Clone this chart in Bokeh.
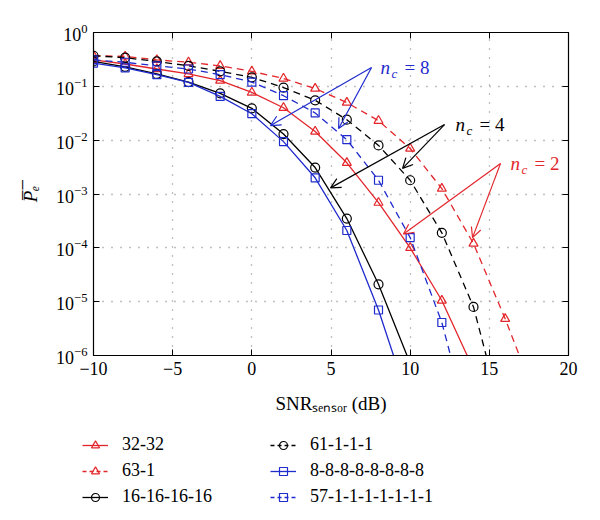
from bokeh.plotting import figure
from bokeh.layouts import column
from bokeh.models import (Legend, LegendItem, Arrow, OpenHead, Label, FixedTicker,
                          LinearAxis, LogAxis, CustomJSTickFormatter)
from bokeh.embed import file_html
from bokeh.resources import INLINE

# ---- data ----
snr = [-10, -8, -6, -4, -2, 0, 2, 4, 6, 8, 10, 12, 14, 16]

pe_32_32 = [0.31, 0.26, 0.21, 0.17, 0.128, 0.077, 0.040, 0.0145, 0.0038, 6.9e-4, 1.0e-4, 1.05e-5]
end_32_32 = (13.6, 1e-6)

pe_63_1 = [0.37, 0.36, 0.31, 0.28, 0.24, 0.19, 0.14, 0.091, 0.05, 0.023, 0.007, 1.26e-3, 1.2e-4, 4.8e-6]
end_63_1 = (16.9, 1e-6)

pe_16x4 = [0.29, 0.23, 0.17, 0.12, 0.074, 0.039, 0.013, 0.0031, 3.5e-4, 2.1e-5]
end_16x4 = (9.8, 1e-6)

pe_61_1 = [0.37, 0.34, 0.29, 0.24, 0.19, 0.147, 0.095, 0.055, 0.024, 0.008, 0.0018, 1.9e-4, 8e-6]
end_61_1 = (14.8, 1e-6)

pe_8x8 = [0.27, 0.22, 0.165, 0.118, 0.065, 0.031, 0.0094, 0.002, 2.1e-4, 7e-6]
end_8x8 = (8.95, 1e-6)

pe_57_1 = [0.31, 0.28, 0.24, 0.21, 0.165, 0.12, 0.067, 0.032, 0.0102, 0.0018, 1.55e-4, 4.1e-6]
end_57_1 = (12.55, 1e-6)

x_ticks = [-10, -5, 0, 5, 10, 15, 20]
y_ticks = [1e-6, 1e-5, 1e-4, 1e-3, 1e-2, 1e-1, 1]

RED = "#e3262b"
BLUE = "#1f2bcc"
BLACK = "#000000"
FONT = "Liberation Serif"

p = figure(width=588, height=428, y_axis_type="log", x_range=(-10, 20), y_range=(1e-6, 1),
           output_backend="svg", toolbar_location=None, frame_align=False,
           min_border_left=93, min_border_right=20, min_border_top=32, min_border_bottom=73)
p.background_fill_color = "white"
p.border_fill_color = "white"
p.outline_line_color = "black"
p.outline_line_width = 1.2

# axes
xt = FixedTicker(ticks=x_ticks, minor_ticks=[])
yt = FixedTicker(ticks=y_ticks, minor_ticks=[])
p.xaxis.ticker = xt
p.yaxis.ticker = yt
p.xaxis.major_label_overrides = {-10: "\u221210", -5: "\u22125"}
for ax in (p.xaxis, p.yaxis):
    ax.major_tick_in = 6
    ax.major_tick_out = 0
    ax.minor_tick_in = 0
    ax.minor_tick_out = 0
    ax.axis_line_color = "black"
    ax.major_label_text_font = FONT
    ax.major_label_text_font_size = "18px"
    ax.major_label_text_color = "black"
    ax.axis_label_text_font = FONT
    ax.axis_label_text_font_size = "19px"
    ax.axis_label_text_font_style = "normal"
    ax.axis_label_text_color = "black"
p.xaxis.major_label_standoff = 6
p.yaxis.major_label_standoff = 6
p.xaxis.axis_label = "SNR\u209b\u2091\u2099\u209b\u2092\u1d63 (dB)"
p.xaxis.axis_label_standoff = 15
p.yaxis.axis_label = "P\u0305\u2091\u0305"
p.yaxis.axis_label_text_font_style = "italic"
p.yaxis.axis_label_standoff = 12

top = LinearAxis(ticker=xt, formatter=CustomJSTickFormatter(code="return ''"),
                 major_tick_in=6, major_tick_out=0, minor_tick_in=0, minor_tick_out=0,
                 major_label_standoff=0)
right = LogAxis(ticker=yt, formatter=CustomJSTickFormatter(code="return ''"),
                major_tick_in=6, major_tick_out=0, minor_tick_in=0, minor_tick_out=0,
                major_label_standoff=0)
p.add_layout(top, "above")
p.add_layout(right, "right")

p.xgrid.grid_line_color = "#808080"
p.ygrid.grid_line_color = "#808080"
p.xgrid.grid_line_dash = "1 8"
p.ygrid.grid_line_dash = "1 8"
p.xgrid.grid_line_width = 1.3
p.ygrid.grid_line_width = 1.3

series = [
    ("32-32", pe_32_32, end_32_32, RED, "solid", "triangle"),
    ("63-1", pe_63_1, end_63_1, RED, "dashed", "triangle"),
    ("16-16-16-16", pe_16x4, end_16x4, BLACK, "solid", "circle"),
    ("61-1-1-1", pe_61_1, end_61_1, BLACK, "dashed", "circle"),
    ("8-8-8-8-8-8-8-8", pe_8x8, end_8x8, BLUE, "solid", "square"),
    ("57-1-1-1-1-1-1-1", pe_57_1, end_57_1, BLUE, "dashed", "square"),
]

# legend strip under the main plot; its ranges keep the series out of view,
# so only the legend keys show
lf = figure(width=588, height=90, output_backend="svg", toolbar_location=None,
            x_axis_location=None, y_axis_location=None, frame_align=False,
            min_border_left=0, min_border_right=0, min_border_top=0, min_border_bottom=0,
            x_range=(1000, 1001), y_range=(1000, 1001))
lf.outline_line_color = None
lf.xgrid.visible = False
lf.ygrid.visible = False
lf.background_fill_color = "white"
lf.border_fill_color = "white"

items = []
for name, vals, end, col, dash, mk in series:
    xs = snr[:len(vals)]
    lx = xs + [end[0]]
    ly = vals + [end[1]]
    ld = "7 5" if dash == "dashed" else "solid"
    p.line(lx, ly, line_color=col, line_width=1.3, line_dash=ld)
    sz = 9 if mk != "square" else 8
    p.scatter(xs, vals, marker=mk, size=sz, fill_color=None, line_color=col, line_width=1.2)
    llr = lf.line(lx, ly, line_color=col, line_width=1.3,
                  line_dash=("4 3" if dash == "dashed" else "solid"))
    lsr = lf.scatter(xs, vals, marker=mk, size=(7 if mk != "square" else 6), fill_color=None,
                     line_color=col, line_width=1.2)
    items.append(LegendItem(label=name, renderers=[llr, lsr]))

def make_legend(its, loc):
    lg = Legend(items=its, location=loc, orientation="vertical")
    lg.label_text_font = FONT
    lg.label_text_font_size = "18px"
    lg.label_text_color = "black"
    lg.glyph_width = 26
    lg.glyph_height = 20
    lg.label_height = 20
    lg.label_standoff = 14
    lg.spacing = 5
    lg.padding = 0
    lg.margin = 0
    lg.border_line_color = None
    lg.background_fill_alpha = 0
    return lg

lf.add_layout(make_legend(items[0:3], (82, 11)))
lf.add_layout(make_legend(items[3:6], (270, 11)))

# annotations: arrows and n_c labels
def arrows(apex, ends, col):
    for e in ends:
        p.add_layout(Arrow(x_start=apex[0], y_start=apex[1], x_end=e[0], y_end=e[1],
                           line_color=col, line_width=1.2,
                           end=OpenHead(size=10, line_color=col, line_width=1.2)))

def nc_label(x, y, txt, col):
    p.add_layout(Label(x=x, y=y, text="n", text_font=FONT, text_font_style="italic",
                       text_font_size="19px", text_color=col, text_baseline="middle"))
    p.add_layout(Label(x=x, y=y, x_offset=11, y_offset=-6, text="c", text_font=FONT,
                       text_font_style="italic", text_font_size="13px", text_color=col,
                       text_baseline="middle"))
    p.add_layout(Label(x=x, y=y, x_offset=24, text="= " + txt, text_font=FONT,
                       text_font_size="19px", text_color=col, text_baseline="middle"))

arrows((7.56, 0.224), [(1.18, 0.0187), (5.48, 0.0165)], BLUE)
arrows((12.17, 0.0195), [(9.52, 0.003), (4.97, 0.0013)], BLACK)
arrows((15.71, 0.0037), [(9.58, 1.8e-4), (13.94, 1.55e-4)], RED)

nc_label(8.13, 0.224, "8", BLUE)
nc_label(12.87, 0.0195, "4", BLACK)
nc_label(16.34, 0.0037, "2", RED)

layout = column(p, lf, spacing=0)
open("out.html", "w").write(file_html(layout, INLINE))
